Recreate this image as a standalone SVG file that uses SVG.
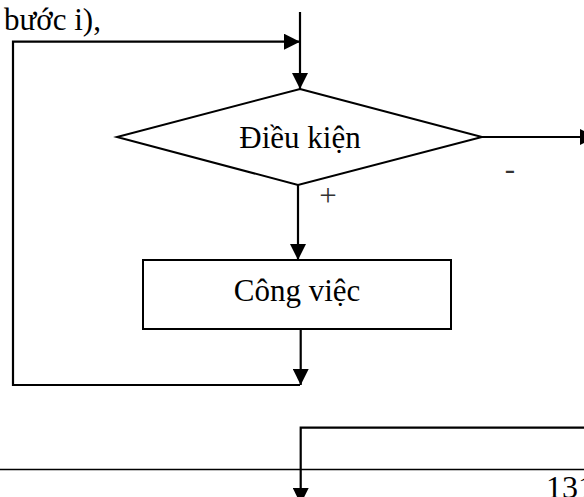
<svg xmlns="http://www.w3.org/2000/svg" width="584" height="497" viewBox="0 0 584 497">
<style>
.t{font-family:"Liberation Serif","Times New Roman",serif;font-size:31px;fill:#000}
.m{text-anchor:middle}
.s{font-family:"Liberation Serif","Times New Roman",serif;font-size:31px;fill:#333}
.pg{font-family:"Liberation Serif","Times New Roman",serif;font-size:32px;fill:#000}
.shape{fill:#fff;stroke:#000;stroke-width:2}
.c{fill:none;stroke:#000;stroke-width:2.2}
.rule{stroke:#000;stroke-width:1.4}
</style>
<defs>
<marker id="ah" markerWidth="16" markerHeight="16" refX="16" refY="8" orient="auto" markerUnits="userSpaceOnUse">
<path d="M0,0 L16,8 L0,16 z" fill="#000"/>
</marker>
</defs>
<rect width="584" height="497" fill="#fff"/>
<g id="heading"><text class="t" x="4" y="29.5">bước i),</text></g>
<g id="connectors">
<path class="c" d="M300,12 V89" marker-end="url(#ah)"/>
<path class="c" d="M300,385 H13 V41.7 H300" marker-end="url(#ah)"/>
<path class="c" d="M298,185 V260" marker-end="url(#ah)"/>
<path class="c" d="M482,137 H596" marker-end="url(#ah)"/>
<path class="c" d="M300.7,329 V385" marker-end="url(#ah)"/>
<path class="c" d="M584,427.7 H300.7 V504" marker-end="url(#ah)"/>
</g>
<g id="condition">
<polygon class="shape" points="300,89 482,137 298,185 117,137"/>
<text class="t m" x="300" y="148">Điều kiện</text>
</g>
<g id="work">
<rect class="shape" x="143" y="260" width="308" height="69"/>
<text class="t m" x="297" y="301">Công việc</text>
</g>
<g id="labels">
<text class="s m" x="328" y="205.5">+</text>
<text class="s m" x="510" y="179">-</text>
</g>
<g id="footer">
<line class="rule" x1="0" y1="469.5" x2="584" y2="469.5"/>
<text class="pg" x="546" y="497.5">131</text>
</g>
</svg>
